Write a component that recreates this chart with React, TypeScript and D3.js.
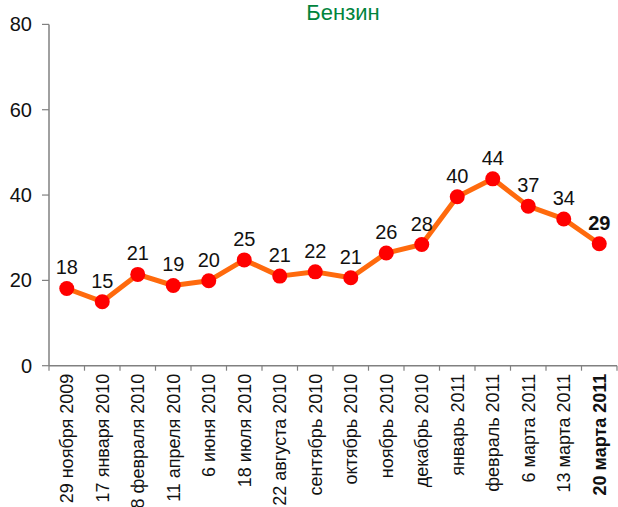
import React from "react";
import * as d3 from "d3";

const categories: string[] = [
  "29 ноября 2009",
  "17 января 2010",
  "8 февраля 2010",
  "11 апреля 2010",
  "6 июня 2010",
  "18 июля 2010",
  "22 августа 2010",
  "сентябрь 2010",
  "октябрь 2010",
  "ноябрь 2010",
  "декабрь 2010",
  "январь 2011",
  "февраль 2011",
  "6 марта 2011",
  "13 марта 2011",
  "20 марта 2011",
];
const values: number[] = [18.1, 15.0, 21.4, 18.8, 19.9, 24.8, 21.0, 22.0, 20.6, 26.4, 28.4, 39.6, 43.8, 37.4, 34.4, 28.6];
const yTicks: number[] = [0, 20, 40, 60, 80];
const title = "Бензин";

const W = 618;
const H = 507;
const FONT = "'Liberation Sans Narrow', 'Arial Narrow', 'Liberation Sans', sans-serif";

export default function App() {
  const x = d3.scaleBand<string>().domain(categories).range([49, 617]).padding(0);
  const y = d3.scaleLinear().domain([0, 80]).range([365.7, 24.4]);
  const cx = (c: string) => (x(c) as number) + x.bandwidth() / 2;
  const line = d3
    .line<number>()
    .x((_, i) => cx(categories[i]))
    .y((d) => y(d));
  const last = categories.length - 1;
  const axisColor = "#808080";

  return (
    <svg width={W} height={H} style={{ position: "absolute", left: 0, top: 0, background: "#fff" }}>
      <text x={343} y={19.5} textAnchor="middle" fontFamily={FONT} fontSize={22} fill="#00843d">
        {title}
      </text>
      {/* y axis */}
      <line x1={49} x2={49} y1={y(80)} y2={y(0)} stroke={axisColor} strokeWidth={1.5} />
      {yTicks.map((t) => (
        <g key={t}>
          <line x1={42} x2={49} y1={y(t)} y2={y(t)} stroke={axisColor} strokeWidth={1.2} />
          <text x={32} y={y(t)} dy="0.35em" textAnchor="end" fontFamily={FONT} fontSize={20} fill="#111">
            {t}
          </text>
        </g>
      ))}
      {/* x axis */}
      <line x1={49} x2={617} y1={y(0)} y2={y(0)} stroke={axisColor} strokeWidth={1.5} />
      {categories.map((c) => (
        <line key={"t" + c} x1={x(c) as number} x2={x(c) as number} y1={y(0)} y2={y(0) + 5} stroke={axisColor} strokeWidth={1.2} />
      ))}
      <line x1={617} x2={617} y1={y(0)} y2={y(0) + 5} stroke={axisColor} strokeWidth={1.2} />
      {categories.map((c, i) => (
        <text
          key={"l" + c}
          transform={`translate(${cx(c)},${y(0) + 8}) rotate(-90)`}
          dy="0.35em"
          textAnchor="end"
          fontFamily={FONT}
          fontSize={18}
          fontWeight={i === last ? "bold" : "normal"}
          fill="#111"
        >
          {c}
        </text>
      ))}
      {/* line */}
      <path d={line(values) || ""} fill="none" stroke="#ff6a0d" strokeWidth={5} strokeLinejoin="round" />
      {values.map((v, i) => (
        <circle key={"c" + i} cx={cx(categories[i])} cy={y(v)} r={7.5} fill="#ff0000" />
      ))}
      {values.map((v, i) => (
        <text
          key={"v" + i}
          x={cx(categories[i])}
          y={y(v) - 14}
          textAnchor="middle"
          fontFamily={FONT}
          fontSize={20}
          fontWeight={i === last ? "bold" : "normal"}
          fill="#111"
        >
          {Math.round(v)}
        </text>
      ))}
    </svg>
  );
}
